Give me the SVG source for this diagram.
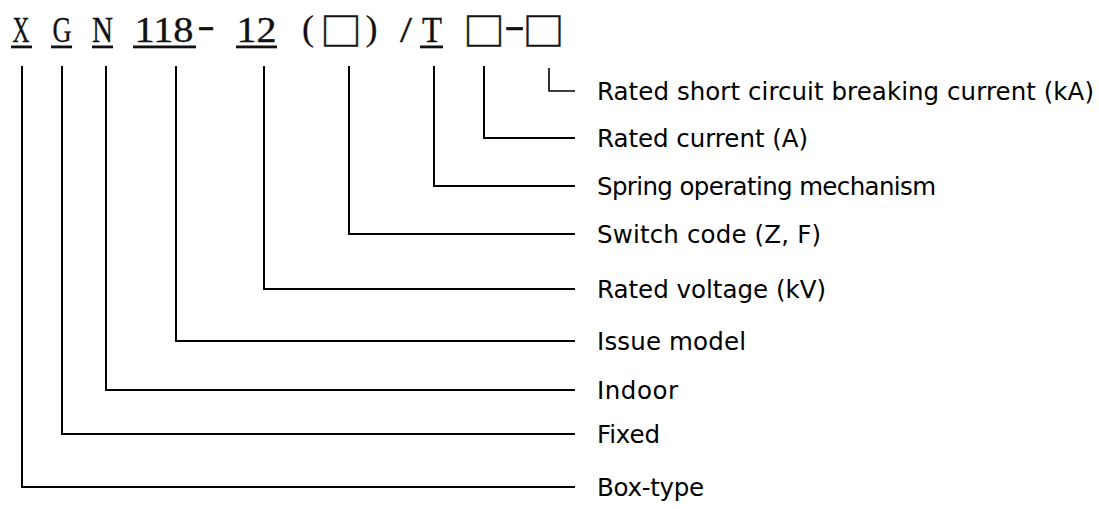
<svg xmlns="http://www.w3.org/2000/svg" width="1099" height="509" viewBox="0 0 1099 509">
<style>
.code{font-family:"Liberation Serif","Noto Serif",serif;font-size:36px;fill:#111;stroke:#111;stroke-width:0.35;text-anchor:middle}
.sym{font-family:"Noto Sans CJK SC","DejaVu Sans",sans-serif;font-size:38px;fill:#111;stroke:#111;stroke-width:0.5;text-anchor:middle}
.ul{fill:#111}
.lbl{font-family:"DejaVu Sans","Noto Sans",sans-serif;font-size:24.5px;fill:#000}
.conn path{fill:none;stroke:#000;stroke-width:2}
</style>
<rect width="1099" height="509" fill="#fff"/>
<g id="code">
  <g id="tok-X"><text class="code" x="21" y="41.5" textLength="17" lengthAdjust="spacingAndGlyphs">X</text><rect class="ul" x="11" y="45.5" width="21" height="2.8"/></g>
  <g id="tok-G"><text class="code" x="62" y="41.5" textLength="19" lengthAdjust="spacingAndGlyphs">G</text><rect class="ul" x="51" y="45.5" width="21" height="2.8"/></g>
  <g id="tok-N"><text class="code" x="102.5" y="41.5" textLength="21" lengthAdjust="spacingAndGlyphs">N</text><rect class="ul" x="92" y="45.5" width="21" height="2.8"/></g>
  <g id="tok-118"><text class="code" x="164" y="41.5" textLength="59" lengthAdjust="spacingAndGlyphs">118</text><rect class="ul" x="133" y="45.5" width="63" height="2.8"/></g>
  <g id="tok-dash1"><text class="code" x="206" y="37" textLength="17" lengthAdjust="spacingAndGlyphs" style="stroke-width:0.6">-</text></g>
  <g id="tok-12"><text class="code" x="256.5" y="41.5" textLength="40" lengthAdjust="spacingAndGlyphs">12</text><rect class="ul" x="236" y="45.5" width="41" height="2.8"/></g>
  <g id="tok-lp"><text class="code" x="308" y="40" textLength="12" lengthAdjust="spacingAndGlyphs" style="stroke-width:0.2">(</text></g>
  <g id="tok-sq1"><text class="sym" x="341" y="45" textLength="42" lengthAdjust="spacingAndGlyphs">□</text></g>
  <g id="tok-rp"><text class="code" x="371.5" y="40" textLength="12" lengthAdjust="spacingAndGlyphs" style="stroke-width:0.2">)</text></g>
  <g id="tok-slash"><text class="code" x="406" y="41.5" textLength="12" lengthAdjust="spacingAndGlyphs">/</text></g>
  <g id="tok-T"><text class="code" x="432" y="41.5" textLength="20" lengthAdjust="spacingAndGlyphs">T</text><rect class="ul" x="420" y="45.5" width="23" height="2.8"/></g>
  <g id="tok-sq2"><text class="sym" x="484" y="45" textLength="42" lengthAdjust="spacingAndGlyphs">□</text></g>
  <g id="tok-dash2"><text class="code" x="514.5" y="37" textLength="20" lengthAdjust="spacingAndGlyphs" style="stroke-width:0.6">-</text></g>
  <g id="tok-sq3"><text class="sym" x="543.5" y="45" textLength="42" lengthAdjust="spacingAndGlyphs">□</text></g>
</g>
<g id="connectors" class="conn">
  <path d="M22,66 V487 H575"/>
  <path d="M62,66 V434 H575"/>
  <path d="M106,66 V390 H575"/>
  <path d="M176,66 V341 H575"/>
  <path d="M264,66 V289 H575"/>
  <path d="M349,66 V234 H575"/>
  <path d="M434,66 V186 H575"/>
  <path d="M484,66 V138 H575"/>
  <path d="M549,68 V91 H575" style="stroke-width:1.6"/>
</g>
<g id="lbl-short"><text class="lbl" x="597" y="100" textLength="497" lengthAdjust="spacing">Rated short circuit breaking current (kA)</text></g>
<g id="lbl-current"><text class="lbl" x="597" y="147" textLength="211" lengthAdjust="spacing">Rated current (A)</text></g>
<g id="lbl-spring"><text class="lbl" x="597" y="195" textLength="339" lengthAdjust="spacing">Spring operating mechanism</text></g>
<g id="lbl-switch"><text class="lbl" x="597" y="243" textLength="224" lengthAdjust="spacing">Switch code (Z, F)</text></g>
<g id="lbl-voltage"><text class="lbl" x="597" y="298" textLength="229" lengthAdjust="spacing">Rated voltage (kV)</text></g>
<g id="lbl-issue"><text class="lbl" x="597" y="350" textLength="149" lengthAdjust="spacing">Issue model</text></g>
<g id="lbl-indoor"><text class="lbl" x="597" y="399" textLength="81" lengthAdjust="spacing">Indoor</text></g>
<g id="lbl-fixed"><text class="lbl" x="597" y="443" textLength="63" lengthAdjust="spacing">Fixed</text></g>
<g id="lbl-box"><text class="lbl" x="597" y="496" textLength="107" lengthAdjust="spacing">Box-type</text></g>
</svg>
